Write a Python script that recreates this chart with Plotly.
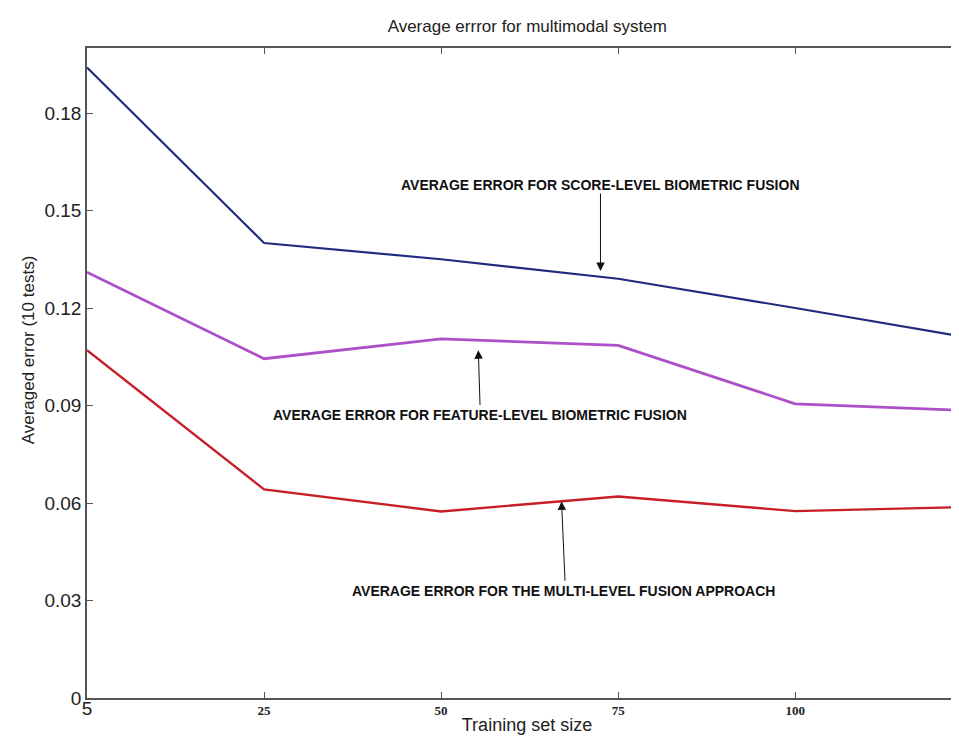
import plotly.graph_objects as go

# ---- data ----
train_sizes = ["5", "25", "50", "75", "100", "125"]
score_level = [0.194, 0.140, 0.135, 0.129, 0.120, 0.1107]
feature_level = [0.131, 0.1044, 0.1105, 0.1085, 0.0905, 0.0884]
multi_level = [0.107, 0.0642, 0.0574, 0.0620, 0.0575, 0.0588]
y_ticks = [0, 0.03, 0.06, 0.09, 0.12, 0.15, 0.18]
x_tick_labels = ["<span style='font-family:Liberation Sans, Arial;font-size:19px'>5</span>",
                 "<b>25</b>", "<b>50</b>", "<b>75</b>", "<b>100</b>"]

title_text = "Average errror for multimodal system"
label_score = "AVERAGE ERROR FOR SCORE-LEVEL BIOMETRIC FUSION"
label_feature = "AVERAGE ERROR FOR FEATURE-LEVEL BIOMETRIC FUSION"
label_multi = "AVERAGE ERROR FOR THE MULTI-LEVEL FUSION APPROACH"

fig = go.Figure()
fig.add_trace(go.Scatter(x=train_sizes, y=score_level, mode="lines",
                         line=dict(color="#1f2b7e", width=2.2), showlegend=False))
fig.add_trace(go.Scatter(x=train_sizes, y=feature_level, mode="lines",
                         line=dict(color="#ad4fc8", width=2.8), showlegend=False))
fig.add_trace(go.Scatter(x=train_sizes, y=multi_level, mode="lines",
                         line=dict(color="#c81e28", width=2.4), showlegend=False))

ann_font = dict(family="Liberation Sans Narrow, Arial Narrow, Liberation Sans, Arial",
                size=14, color="#111111")

annotations = [
    # text labels
    dict(x=2.9, y=0.158, xref="x", yref="y", text="<b>" + label_score + "</b>",
         showarrow=False, font=ann_font),
    dict(x=2.22, y=0.087, xref="x", yref="y", text="<b>" + label_feature + "</b>",
         showarrow=False, font=ann_font),
    dict(x=2.69, y=0.033, xref="x", yref="y", text="<b>" + label_multi + "</b>",
         showarrow=False, font=ann_font),
    # arrows
    dict(x=2.9, y=0.1314, ax=2.9, ay=0.1557, xref="x", yref="y", axref="x", ayref="y",
         text="", showarrow=True, arrowhead=2, arrowsize=1.7, arrowwidth=1, arrowcolor="#111111"),
    dict(x=2.21, y=0.107, ax=2.22, ay=0.0897, xref="x", yref="y", axref="x", ayref="y",
         text="", showarrow=True, arrowhead=2, arrowsize=1.7, arrowwidth=1, arrowcolor="#111111"),
    dict(x=2.68, y=0.0605, ax=2.70, ay=0.0356, xref="x", yref="y", axref="x", ayref="y",
         text="", showarrow=True, arrowhead=2, arrowsize=1.7, arrowwidth=1, arrowcolor="#111111"),
    # y axis title
    dict(x=-0.08, y=0.107, xref="paper", yref="y", text="Averaged error (10 tests)",
         textangle=-90, showarrow=False,
         font=dict(family="Liberation Sans, Arial", size=17, color="#222222")),
]

fig.update_layout(
    width=959, height=737,
    margin=dict(l=79, r=0, t=40, b=47),
    paper_bgcolor="white", plot_bgcolor="white",
    title=dict(text=title_text, x=0.5415, xanchor="center", y=0.984, yanchor="top",
               font=dict(family="Liberation Sans, Arial", size=17, color="#222222")),
    annotations=annotations,
    xaxis=dict(type="category", range=[0, 4.97],
               tickvals=train_sizes[:5], ticktext=x_tick_labels,
               ticks="inside", ticklen=6, tickcolor="#555555",
               showline=True, linecolor="#555555", linewidth=1.5, mirror="ticks",
               showgrid=False, zeroline=False,
               tickfont=dict(family="Liberation Serif, Times New Roman", size=13, color="#222222"),
               title=dict(text="Training set size", standoff=0,
                          font=dict(family="Liberation Sans, Arial", size=18, color="#222222"))),
    yaxis=dict(range=[0, 0.2], tickvals=y_ticks, ticktext=[str(v) if v else "0" for v in y_ticks],
               ticks="inside", ticklen=6, tickcolor="#555555",
               showline=True, linecolor="#555555", linewidth=1.5,
               showgrid=False, zeroline=False,
               tickfont=dict(family="Liberation Sans, Arial", size=19, color="#222222")),
)

fig.write_html("out.html")
